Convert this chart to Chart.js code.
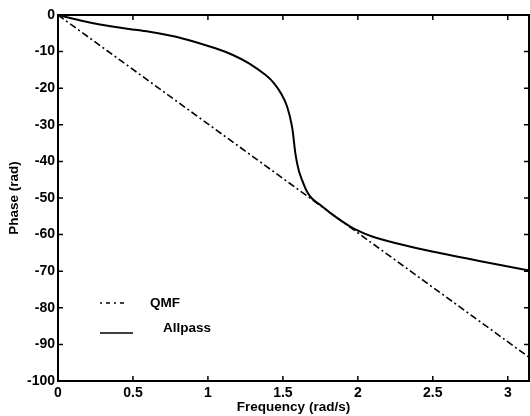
<!DOCTYPE html>
<html>
<head>
<meta charset="utf-8">
<script src="https://cdn.jsdelivr.net/npm/chart.js@4.4.0/dist/chart.umd.min.js"></script>
<style>
  html, body { margin: 0; padding: 0; background: #fff; }
  #wrap { width: 530px; height: 416px; }
</style>
</head>
<body>
<div id="wrap"><canvas id="phaseChart" width="530" height="416"></canvas></div>
<script>
// frequency (rad/s) and phase (rad)
const allpassFreq  = [0, 0.15, 0.28, 0.45, 0.61, 0.83, 1.05, 1.17, 1.274, 1.385, 1.44, 1.49, 1.528, 1.561, 1.584, 1.606, 1.628, 1.655, 1.683, 1.715, 1.75, 1.827, 1.9, 1.98, 2.1, 2.27, 2.48, 2.81, 3.1416];
const allpassPhase = [0, -1.5, -2.6, -3.7, -4.6, -6.4, -9.1, -11.0, -13.2, -16.4, -18.6, -21.6, -25.0, -30.5, -38.0, -42.5, -45.1, -47.8, -49.6, -50.9, -51.9, -54.4, -56.5, -58.5, -60.6, -62.5, -64.5, -67.2, -69.8];
const qmfFreq  = [0, 3.1416];
const qmfPhase = [0, -93.5];
const xTickValues = [0, 0.5, 1, 1.5, 2, 2.5, 3];
const legendLabels = ['QMF', 'Allpass'];

const qmfDash = [7, 3, 2, 3];
const tickFont = { family: 'Liberation Sans, Arial, sans-serif', size: 14, weight: 'bold' };
const titleFont = { family: 'Liberation Sans, Arial, sans-serif', size: 13.5, weight: 'bold' };

function toPoints(xs, ys) {
    return xs.map((x, i) => ({ x: x, y: ys[i] }));
}

// MATLAB-style frame with inward ticks + the little legend box
const framePlugin = {
    id: 'frame',
    afterDraw(chart) {
        const ctx = chart.ctx;
        const a = chart.chartArea;
        const xs = chart.scales.x, ys = chart.scales.y;
        ctx.save();
        ctx.strokeStyle = '#000';
        ctx.lineWidth = 2;
        ctx.strokeRect(a.left, a.top, a.right - a.left, a.bottom - a.top);
        ctx.lineWidth = 1.5;
        ctx.beginPath();
        xs.ticks.forEach(t => {
            let px = xs.getPixelForValue(t.value);
            ctx.moveTo(px, a.bottom); ctx.lineTo(px, a.bottom - 5);
            ctx.moveTo(px, a.top); ctx.lineTo(px, a.top + 5);
        });
        ys.ticks.forEach(t => {
            let py = ys.getPixelForValue(t.value);
            ctx.moveTo(a.left, py); ctx.lineTo(a.left + 5, py);
            ctx.moveTo(a.right, py); ctx.lineTo(a.right - 5, py);
        });
        ctx.stroke();

        // legend
        ctx.lineWidth = 1.5;
        ctx.setLineDash([2, 4, 4, 4]);
        ctx.beginPath();
        ctx.moveTo(100, 303); ctx.lineTo(124, 303);
        ctx.stroke();
        ctx.setLineDash([]);
        ctx.beginPath();
        ctx.moveTo(100, 333); ctx.lineTo(133, 333);
        ctx.stroke();
        ctx.fillStyle = '#000';
        ctx.font = 'bold 13.5px Liberation Sans, Arial, sans-serif';
        ctx.textBaseline = 'middle';
        ctx.fillText(legendLabels[0], 150, 303);
        ctx.fillText(legendLabels[1], 163, 328);
        ctx.restore();
    }
};

const ctx = document.getElementById('phaseChart').getContext('2d');
window.chart = new Chart(ctx, {
    type: 'scatter',
    data: {
        datasets: [{
            label: 'QMF',
            data: toPoints(qmfFreq, qmfPhase),
            showLine: true,
            borderColor: '#000',
            borderWidth: 1.6,
            borderDash: qmfDash,
            pointRadius: 0,
            fill: false
        }, {
            label: 'Allpass',
            data: toPoints(allpassFreq, allpassPhase),
            showLine: true,
            borderColor: '#000',
            borderWidth: 2,
            pointRadius: 0,
            tension: 0.3,
            fill: false
        }]
    },
    options: {
        responsive: false,
        animation: false,
        layout: { padding: { left: 0, right: 1, top: 15, bottom: 0 } },
        plugins: {
            legend: { display: false },
            tooltip: { enabled: false }
        },
        scales: {
            x: {
                type: 'linear',
                min: 0,
                max: 3.1416,
                afterBuildTicks: scale => { scale.ticks = xTickValues.map(v => ({ value: v })); },
                afterFit: scale => { scale.height = 35; },
                grid: { display: false, drawTicks: false },
                border: { display: false },
                ticks: {
                    color: '#000', font: tickFont, padding: 4, maxRotation: 0,
                    callback: value => String(value)
                },
                title: {
                    display: true, text: 'Frequency (rad/s)', color: '#000',
                    font: titleFont, padding: { top: 0, bottom: 1 }
                }
            },
            y: {
                min: -100,
                max: 0,
                afterFit: scale => { scale.width = 58; },
                grid: { display: false, drawTicks: false },
                border: { display: false },
                ticks: { color: '#000', font: tickFont, stepSize: 10, padding: 3 },
                title: {
                    display: true, text: 'Phase (rad)', color: '#000',
                    font: titleFont, padding: { top: 6, bottom: 0 }
                }
            }
        }
    },
    plugins: [framePlugin]
});
</script>
</body>
</html>
